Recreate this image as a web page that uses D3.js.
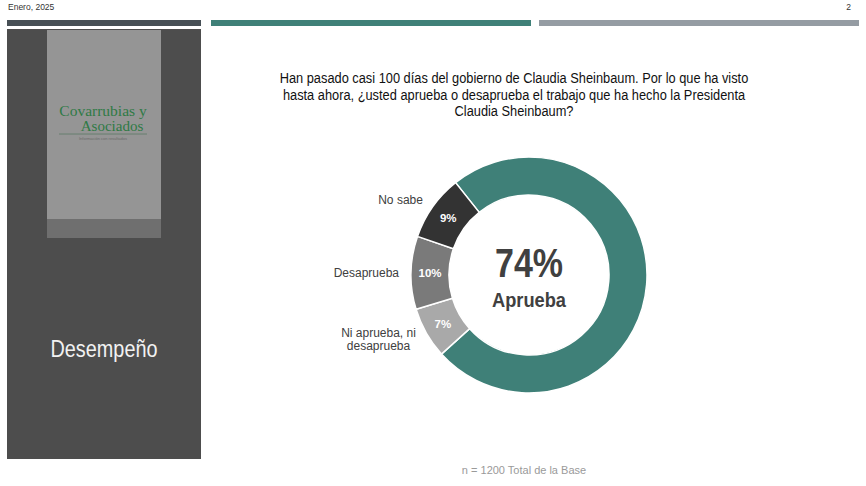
<!DOCTYPE html>
<html>
<head>
<meta charset="utf-8">
<script src="https://cdn.jsdelivr.net/npm/d3@7"></script>
<style>
  body { margin: 0; background: #fff; }
  svg { display: block; font-family: "Liberation Sans", Arial, sans-serif; }
</style>
</head>
<body>
<div id="chart"></div>
<script>
// data
var categories = ["Aprueba", "Ni aprueba, ni desaprueba", "Desaprueba", "No sabe"];
var values = [74, 7, 10, 9];
var sliceColors = ["#3f8078", "#a9a9a9", "#7a7a7a", "#333333"];
var labelLines = [[], ["Ni aprueba, ni", "desaprueba"], ["Desaprueba"], ["No sabe"]];
var titleLines = [
  "Han pasado casi 100 días del gobierno de Claudia Sheinbaum. Por lo que ha visto",
  "hasta ahora, ¿usted aprueba o desaprueba el trabajo que ha hecho la Presidenta",
  "Claudia Sheinbaum?"
];
var headerText = "Enero, 2025";
var pageNumber = "2";
var sectionName = "Desempeño";
var baseNote = "n = 1200 Total de la Base";

var width = 866, height = 486;

var svg = d3.select("#chart")
  .append("svg")
  .attr("width", width)
  .attr("height", height);

// header
svg.append("text").attr("x", 8).attr("y", 10)
  .attr("font-size", 8.5).attr("fill", "#333").text(headerText);
svg.append("text").attr("x", 851).attr("y", 10).attr("text-anchor", "end")
  .attr("font-size", 8.5).attr("fill", "#333").text(pageNumber);

// three colour bars under the header
svg.append("rect").attr("x", 7).attr("y", 20).attr("width", 194).attr("height", 6).attr("fill", "#474f55");
svg.append("rect").attr("x", 211).attr("y", 20).attr("width", 320).attr("height", 6).attr("fill", "#3f8078");
svg.append("rect").attr("x", 539).attr("y", 20).attr("width", 320).attr("height", 6).attr("fill", "#959ca3");

// left panel
svg.append("rect").attr("x", 7).attr("y", 29).attr("width", 194).attr("height", 430).attr("fill", "#4d4d4d");
svg.append("rect").attr("x", 47).attr("y", 30).attr("width", 114).attr("height", 189).attr("fill", "#959595");
svg.append("rect").attr("x", 47).attr("y", 219).attr("width", 114).attr("height", 19).attr("fill", "#6f6f6f");

// logo
var logo = svg.append("g").attr("font-family", "'Liberation Serif', 'DejaVu Serif', serif").attr("fill", "#2f7a45");
logo.append("text").attr("x", 103).attr("y", 116).attr("text-anchor", "middle")
  .attr("font-size", 15.5).text("Covarrubias y");
logo.append("text").attr("x", 112).attr("y", 131).attr("text-anchor", "middle")
  .attr("font-size", 15).text("Asociados");
svg.append("line").attr("x1", 59).attr("x2", 147).attr("y1", 134).attr("y2", 134)
  .attr("stroke", "#5c7a66").attr("stroke-width", 0.8);
svg.append("text").attr("x", 103).attr("y", 139.5).attr("text-anchor", "middle")
  .attr("font-size", 4).attr("fill", "#6a6a6a").text("Información con resultados");

svg.append("text").attr("x", 104).attr("y", 357).attr("text-anchor", "middle")
  .attr("font-size", 23).attr("fill", "#f2f2f2")
  .attr("textLength", 107).attr("lengthAdjust", "spacingAndGlyphs")
  .text(sectionName);

// question, a little condensed like the slide font
svg.append("g").selectAll("text")
  .data(titleLines)
  .join("text")
  .attr("x", 514)
  .attr("y", function (d, i) { return 83 + i * 16.5; })
  .attr("text-anchor", "middle")
  .attr("font-size", 14)
  .attr("fill", "#111")
  .text(function (d) { return d; })
  .each(function () {
    var w = this.getComputedTextLength();
    d3.select(this).attr("textLength", w * 0.915).attr("lengthAdjust", "spacingAndGlyphs");
  });

// donut
var cx = 529, cy = 275, outerR = 118, innerR = 80;
var start = -38.5 * Math.PI / 180;

var pie = d3.pie().sort(null).value(function (d) { return d; })
  .startAngle(start).endAngle(start + 2 * Math.PI);
var arcs = pie(values);

var arc = d3.arc().innerRadius(innerR).outerRadius(outerR);
var midArc = d3.arc().innerRadius(innerR + 19).outerRadius(innerR + 19);
var outArc = d3.arc().innerRadius(outerR + 12).outerRadius(outerR + 12);

var g = svg.append("g").attr("transform", "translate(" + cx + "," + cy + ")");

g.selectAll("path.slice")
  .data(arcs)
  .join("path")
  .attr("class", "slice")
  .attr("d", arc)
  .attr("fill", function (d, i) { return sliceColors[i]; })
  .attr("stroke", "#fff")
  .attr("stroke-width", 1.5);

// percentages inside the small slices
g.selectAll("text.pct")
  .data(arcs.slice(1))
  .join("text")
  .attr("class", "pct")
  .attr("transform", function (d) { return "translate(" + midArc.centroid(d) + ")"; })
  .attr("dy", "0.36em")
  .attr("text-anchor", "middle")
  .attr("font-size", 11.5)
  .attr("font-weight", "bold")
  .attr("fill", "#fff")
  .text(function (d) { return d.value + "%"; });

// category labels outside, left of the ring
arcs.forEach(function (d, i) {
  var lines = labelLines[i];
  if (!lines.length) return;
  var p = outArc.centroid(d);
  var t = g.append("text")
    .attr("font-size", 12)
    .attr("fill", "#404040");
  lines.forEach(function (l) {
    t.append("tspan").text(l);
  });
  var spans = t.selectAll("tspan");
  var widest = d3.max(spans.nodes(), function (n) { return n.getComputedTextLength(); });
  var lh = 13;
  spans
    .attr("x", p[0] - widest / 2)
    .attr("text-anchor", "middle")
    .attr("y", function (s, j) { return p[1] + 4 + (j - (lines.length - 1) / 2) * lh; });
});

// centre figure
g.append("text")
  .attr("y", 2)
  .attr("text-anchor", "middle")
  .attr("font-size", 41)
  .attr("font-weight", "bold")
  .attr("fill", "#404040")
  .attr("textLength", 68).attr("lengthAdjust", "spacingAndGlyphs")
  .text(values[0] + "%");
g.append("text")
  .attr("y", 32)
  .attr("text-anchor", "middle")
  .attr("font-size", 20)
  .attr("font-weight", "bold")
  .attr("fill", "#404040")
  .attr("textLength", 74).attr("lengthAdjust", "spacingAndGlyphs")
  .text(categories[0]);

// base note
svg.append("text").attr("x", 524).attr("y", 474).attr("text-anchor", "middle")
  .attr("font-size", 11).attr("fill", "#9a9a9a").text(baseNote);
</script>
</body>
</html>
